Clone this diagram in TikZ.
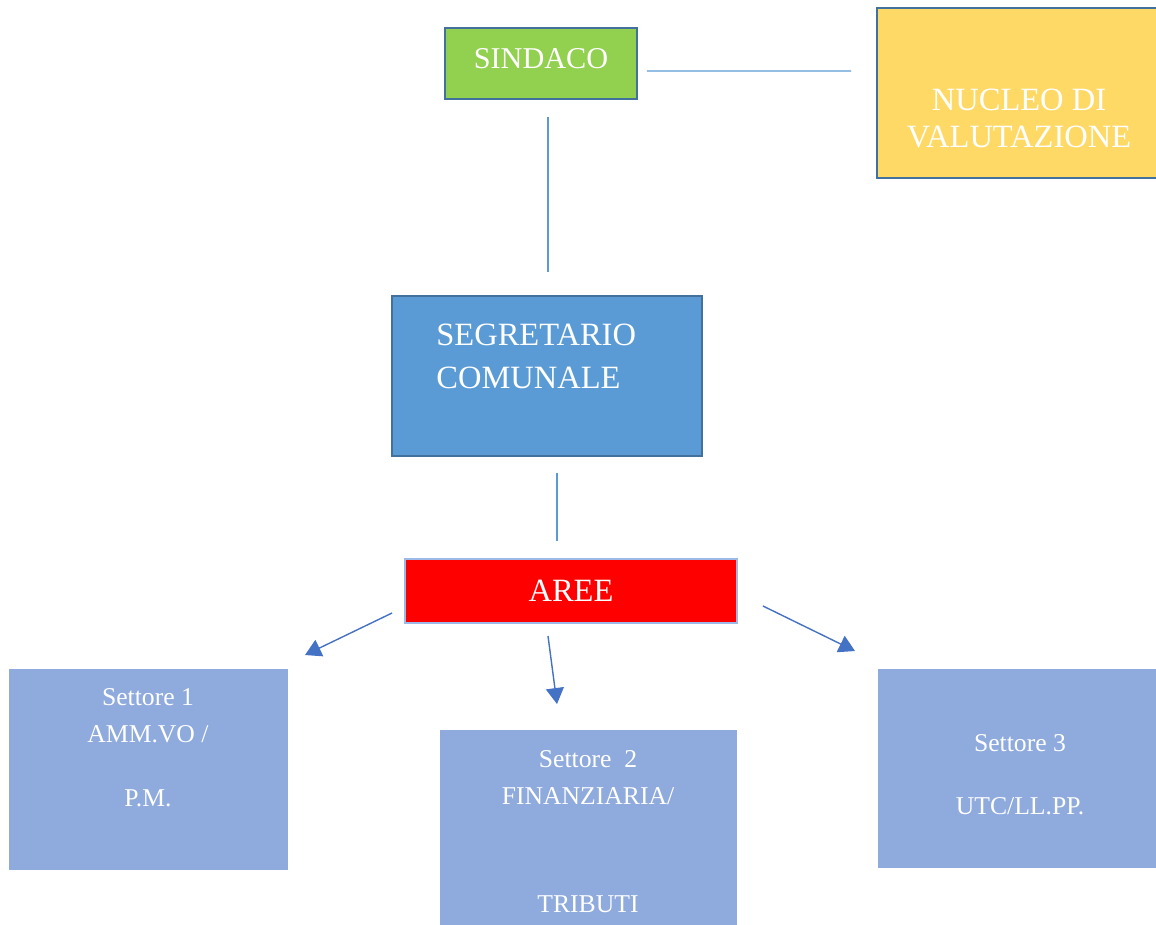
\documentclass[tikz,border=0pt]{standalone}
\usepackage{fontspec}
\setmainfont{Liberation Serif}
\usetikzlibrary{arrows.meta,calc}
\definecolor{boxborder}{HTML}{41719C}
\definecolor{sindacogreen}{HTML}{92D050}
\definecolor{nucleoyellow}{HTML}{FFD966}
\definecolor{segrblue}{HTML}{5B9BD5}
\definecolor{settoreblue}{HTML}{8FAADC}
\definecolor{areeborder}{HTML}{9DB9E8}
\definecolor{linkblue}{HTML}{5B9BD5}
\definecolor{arrowblue}{HTML}{4472C4}
\newcommand{\bigtext}{\fontsize{18.5}{21}\selectfont}
\newcommand{\smalltext}{\fontsize{14.6}{20.8}\selectfont}
\tikzstyle{box}=[draw=boxborder, line width=1.3pt, inner sep=0, outer sep=0]
\tikzstyle{settore}=[fill=settoreblue, inner sep=0, outer sep=0]
\tikzstyle{boxtext}=[text=white, inner sep=0, align=center]
\tikzstyle{link}=[draw=linkblue, line width=0.6pt]
\tikzstyle{areaarrow}=[draw=arrowblue, line width=0.8pt, -{Triangle[length=0.32cm,width=0.36cm]}]
\tikzstyle{orgchart}=[x=0.02cm, y=-0.02cm,
                      % boxes keep their text on one line unless told otherwise
                      every node/.style={text depth=0pt}]

\begin{document}
\begin{tikzpicture}[orgchart]
        \useasboundingbox (0,0) rectangle (1156,924);
        \clip (0,0) rectangle (1156,924);
        % top row
        \node[box, fill=sindacogreen, minimum width=3.84cm, minimum height=1.42cm,
              text=white, text depth=0.22cm, font=\fontsize{17.2}{20}\selectfont] (sindaco) at (541,63.5) {SINDACO};
        \node[box, fill=nucleoyellow, minimum width=6.1cm, minimum height=3.4cm] (nucleo) at (1029.5,93) {};
        \node[boxtext, anchor=north, font=\bigtext] (nucleoT) at (1019,89) {NUCLEO DI\\VALUTAZIONE};
        % middle
        \node[box, fill=segrblue, minimum width=6.2cm, minimum height=3.2cm] (segr) at (547,376) {};
        \node[boxtext, anchor=north west, align=left, font=\fontsize{18.5}{24}\selectfont] (segrT) at (436,324) {SEGRETARIO\\COMUNALE};
        \node[box, draw=areeborder, fill=red, minimum width=6.64cm, minimum height=1.28cm,
              text=white, font=\bigtext] (aree) at (571,591) {AREE};
        % settori
        \node[settore, minimum width=5.58cm, minimum height=4.02cm] (set1) at (148.5,769.5) {};
        \node[settore, minimum width=5.94cm, minimum height=4.0cm] (set2) at (588.5,830) {};
        \node[settore, minimum width=5.56cm, minimum height=3.98cm] (set3) at (1017,768.5) {};
        \node[boxtext, anchor=north, font=\smalltext] (set1T) at (148,688.5) {Settore 1\\AMM.VO /\\[0.56cm]P.M.};
        \node[boxtext, anchor=north, font=\smalltext] (set2T) at (588,750.5) {Settore~~2\\FINANZIARIA/\\[1.44cm]TRIBUTI};
        \node[boxtext, anchor=north, font=\smalltext] (set3T) at (1020,734.5) {Settore 3\\[0.52cm]UTC/LL.PP.};
        % links
        \draw[link] ($(sindaco.east)+(10,7.5)$) -- ($(nucleo.west)+(-26,-22)$);
        \draw[link] ($(sindaco.south)+(7,18)$) -- ($(segr.north)+(1,-24)$);
        \draw[link] ($(segr.south)+(10,17)$) -- ($(aree.north)+(-14,-18)$);
        \draw[areaarrow] ($(aree.west)+(-13,22)$) -- ($(set1.north east)+(17,-14)$);
        \draw[areaarrow] ($(aree.south)+(-23,13)$) -- ($(set2.north)+(-31.5,-26)$);
        \draw[areaarrow] ($(aree.east)+(26,15)$) -- ($(set3.north west)+(-23,-18)$);
    \end{tikzpicture}
\end{document}
